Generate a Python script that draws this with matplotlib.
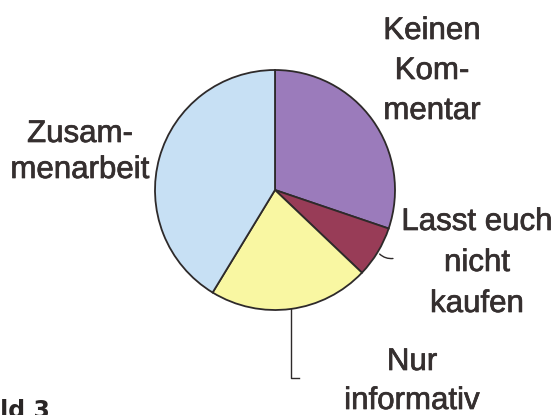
import numpy as np
import matplotlib
matplotlib.use("Agg")
import matplotlib.pyplot as plt
import matplotlib.patheffects as pe

# data
categories = ["Keinen\nKom-\nmentar", "Lasst euch\nnicht\nkaufen", "Nur\ninformativ", "Zusam-\nmenarbeit"]
values = [30.2, 6.9, 21.6, 41.3]
colors = ["#9b7bbb", "#983c57", "#f9f7a2", "#c7e0f4"]

W, H = 557, 415
fig = plt.figure(figsize=(W / 100, H / 100), dpi=100)
ax = fig.add_axes([0, 0, 1, 1])

cx, cy, r = 275, H - 190, 120
wedges, _ = ax.pie(values, colors=colors, startangle=90, counterclock=False,
                   center=(cx, cy), radius=r,
                   wedgeprops=dict(edgecolor="#2e2a2a", linewidth=1.3))
ax.set_xlim(0, W)
ax.set_ylim(0, H)
ax.set_aspect("equal")
ax.axis("off")

txt_color = "#352f2f"
fs = 22.5
font = "Liberation Sans"
stroke = [pe.withStroke(linewidth=0.5, foreground=txt_color)]

# label layout: (center x, first baseline y in px from top, line spacing)
layout = [(432, 39, 40), (477, 230, 41), (412, 370, 39), (80, 142, 36)]
for lab, (x, y0, dy) in zip(categories, layout):
    for i, line in enumerate(lab.split("\n")):
        ax.text(x, H - (y0 + i * dy), line, ha="center", va="baseline",
                fontsize=fs, family=font, color=txt_color, path_effects=stroke)

# leader lines from wedge mid angles
def edge_point(w, rr=r):
    ang = np.deg2rad((w.theta1 + w.theta2) / 2)
    return cx + rr * np.cos(ang), cy + rr * np.sin(ang)

# red slice leader (short curve)
x0, y0 = edge_point(wedges[1])
ax.annotate("", xy=(x0 + 18, y0 - 6), xytext=(x0, y0),
            arrowprops=dict(arrowstyle="-", color="#2e2a2a", lw=1.0,
                            connectionstyle="arc3,rad=0.3"))

# yellow slice leader (vertical then short horizontal)
x1, y1 = edge_point(wedges[2])
ax.plot([x1, x1, x1 + 8], [y1, H - 378, H - 378], color="#2e2a2a", lw=1.0)

# partially cut caption (cropped in the reference)
fig.text(50 / W, 1 - 399 / H, "Bild 3", ha="right", va="top",
         fontsize=17, fontweight="bold", family="DejaVu Sans", color="#2a2626")

fig.savefig("out.png", dpi=100)
